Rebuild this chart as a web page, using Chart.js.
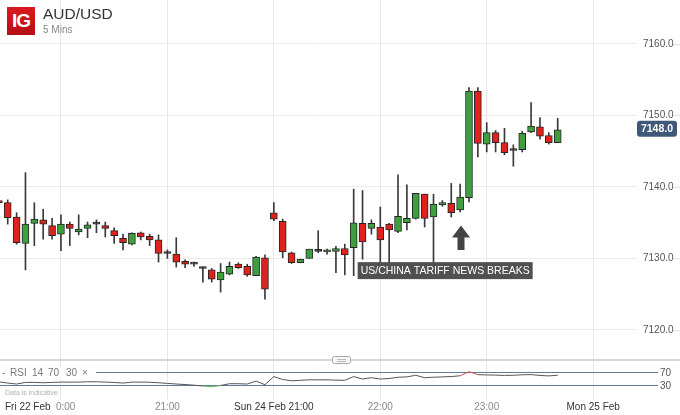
<!DOCTYPE html>
<html>
<head>
<meta charset="utf-8">
<script src="https://cdn.jsdelivr.net/npm/chart.js@4.4.1/dist/chart.umd.min.js"></script>
<style>
body{margin:0;width:680px;height:415px;background:#fff;overflow:hidden;position:relative;font-family:"Liberation Sans",Arial,sans-serif}
#main{position:absolute;left:0;top:0}
#rsi{position:absolute;left:0;top:356px}
#logo{position:absolute;left:7px;top:7px;width:28px;height:28px;background:linear-gradient(#dc1a20,#b30f15);color:#fff;font:bold 19px "Liberation Sans",Arial,sans-serif;letter-spacing:-1px;display:flex;align-items:center;justify-content:center;z-index:2}
#title{position:absolute;left:43px;top:6px;font-size:15.5px;line-height:15px;color:#333;z-index:2}
#sub{position:absolute;left:43px;top:25px;font-size:10px;line-height:10px;color:#888;z-index:2}
</style>
</head>
<body>
<canvas id="main" width="680" height="356"></canvas>
<canvas id="rsi" width="680" height="59"></canvas>
<div id="logo">IG</div>
<div id="title">AUD/USD</div>
<div id="sub">5 Mins</div>
<script>
// 5 minute candles
const opens  = [7137.9,7137.8,7135.8,7132.1,7134.9,7135.4,7134.6,7133.4,7134.8,7133.7,
                7134.2,7134.8,7134.6,7133.9,7132.8,7132.0,7133.6,7133.1,7132.6,7130.7,
                7130.6,7129.6,7129.2,7128.6,7128.4,7127.0,7127.8,7129.2,7128.9,7127.6,
                7130.1,7136.4,7135.2,7130.8,7129.4,7130.0,7131.0,7130.9,7131.0,7131.4,
                7131.5,7134.9,7134.2,7134.4,7134.8,7133.8,7135.0,7135.6,7139.0,7135.8,
                7137.5,7137.7,7136.8,7138.5,7153.4,7146.0,7147.6,7146.2,7145.1,7145.2,
                7147.7,7148.4,7147.2,7146.2];
const highs  = [7138.0,7138.2,7136.4,7142.0,7137.8,7136.9,7135.6,7136.1,7135.1,7136.1,
                7135.1,7135.4,7135.1,7134.3,7133.4,7133.6,7133.7,7133.4,7133.3,7131.2,
                7132.9,7129.8,7129.5,7128.8,7128.6,7129.3,7129.5,7129.4,7129.2,7130.3,
                7130.5,7137.8,7135.5,7130.9,7129.9,7131.3,7133.9,7131.3,7131.7,7132.0,
                7139.7,7139.5,7135.4,7137.2,7134.9,7141.7,7140.3,7139.1,7139.0,7139.0,
                7138.1,7140.5,7140.4,7153.9,7153.9,7149.0,7147.9,7148.2,7145.9,7147.8,
                7151.8,7149.7,7147.6,7149.6];
const lows   = [7137.7,7134.8,7132.0,7128.4,7131.8,7132.7,7132.7,7131.1,7131.8,7133.3,
                7132.9,7133.6,7133.0,7132.1,7131.2,7131.9,7132.6,7131.8,7129.5,7130.0,
                7128.8,7128.7,7128.9,7126.7,7126.7,7125.3,7127.7,7128.6,7127.5,7127.6,
                7124.3,7135.3,7130.1,7129.3,7129.4,7130.0,7130.8,7130.6,7128.0,7127.7,
                7127.6,7129.9,7133.4,7128.5,7128.5,7133.6,7134.0,7135.5,7134.4,7128.5,
                7137.3,7135.8,7136.5,7137.9,7144.2,7144.9,7144.9,7144.5,7142.9,7144.9,
                7147.6,7146.7,7146.0,7146.2];
const closes = [7137.8,7135.7,7132.2,7134.8,7135.5,7134.8,7133.2,7134.8,7134.2,7134.1,
                7134.7,7134.8,7134.2,7133.2,7132.2,7133.5,7133.0,7132.6,7130.7,7130.7,
                7129.5,7129.2,7129.2,7128.6,7127.1,7128.1,7128.9,7128.7,7127.7,7130.2,
                7125.7,7135.5,7130.9,7129.4,7129.9,7131.3,7131.0,7131.2,7131.4,7130.5,
                7135.0,7132.3,7134.9,7132.6,7134.0,7135.9,7135.6,7139.1,7135.6,7137.6,
                7137.8,7136.4,7138.6,7153.4,7146.1,7147.6,7146.2,7144.8,7145.1,7147.5,
                7148.5,7147.1,7146.2,7148.0];
// RSI(14) underneath
const rsiValues = [43,39,36,41,41,40,41,42,42,42,
                   43,43,42,41,39,42,42,41.5,40,38,
                   36,34.5,32.5,30,27.5,31.5,37,37,36,45,
                   34,59,50,46,47.5,49,49,49,48,47.5,
                   59,51.5,55.5,51.5,53,57,58,63,55.5,57,
                   58,59,61.5,74,65,64,63.5,62.5,63,64.5,
                   65,62.5,61,63];
const rsiLevels = [30, 70];
const priceTicks = [7120, 7130, 7140, 7150, 7160];
// hour marks (candle index) and their labels
const hourTicks = [7, 19, 31, 43, 55, 67];
const hourLabels = ['0:00', '21:00', 'Sun 24 Feb 21:00', '22:00', '23:00', 'Mon 25 Feb'];
const firstDayLabel = 'Fri 22 Feb';
const noteText = 'US/CHINA TARIFF NEWS BREAKS';
const noteIndex = 40.45, notePrice = 7128.3;
const arrowIndex = 52.1, arrowTop = 7134.6, arrowBottom = 7131.2;
const lastPrice = 7148.0;

const FONT = '"Liberation Sans", Arial, sans-serif';
Chart.defaults.font.family = FONT;
Chart.defaults.animation = false;

const upColor = '#3d9f3d';
const downColor = '#e0221c';
const bodyColors = opens.map((o, i) => closes[i] > o ? upColor : (closes[i] < o ? downColor : '#333'));

function xScale(){
    return {
        type: 'linear',
        min: 0.13,
        max: 71.94,
        offset: false,
        afterBuildTicks: s => { s.ticks = hourTicks.map(v => ({value: v})); },
        ticks: {display: false},
        grid: {color: '#e8e8e8', drawTicks: false, offset: false},
        border: {display: false}
    };
}

// fixed width right axis, no extra room for the edge labels
function fitRightAxis(s){
    s.width = 43;
    s.paddingTop = 0;
    s.paddingBottom = 0;
}

const mainOverlay = {
    id: 'mainOverlay',
    afterDatasetsDraw(chart){
        const {ctx, chartArea} = chart;
        const x = chart.scales.x, y = chart.scales.y;
        ctx.save();

        // news label
        const lx = x.getPixelForValue(noteIndex);
        const ly = y.getPixelForValue(notePrice);
        ctx.font = '10.5px ' + FONT;
        const w = ctx.measureText(noteText).width + 6;
        ctx.fillStyle = '#505050';
        ctx.fillRect(lx, ly - 8.5, w, 17);
        ctx.fillStyle = '#fff';
        ctx.textBaseline = 'middle';
        ctx.fillText(noteText, lx + 3, ly + 0.5);

        // arrow
        const ax = x.getPixelForValue(arrowIndex);
        const at = y.getPixelForValue(arrowTop);
        const ab = y.getPixelForValue(arrowBottom);
        ctx.fillStyle = '#444';
        ctx.beginPath();
        ctx.moveTo(ax, at);
        ctx.lineTo(ax + 9, at + 12);
        ctx.lineTo(ax + 3.5, at + 12);
        ctx.lineTo(ax + 3.5, ab);
        ctx.lineTo(ax - 3.5, ab);
        ctx.lineTo(ax - 3.5, at + 12);
        ctx.lineTo(ax - 9, at + 12);
        ctx.closePath();
        ctx.fill();

        // short stubs right of price labels
        ctx.strokeStyle = '#e2e2e2';
        ctx.lineWidth = 1;
        priceTicks.forEach(p => {
            const py = Math.round(y.getPixelForValue(p)) + 0.5;
            ctx.beginPath();
            ctx.moveTo(673, py);
            ctx.lineTo(680, py);
            ctx.stroke();
        });

        // last price badge
        const by = y.getPixelForValue(lastPrice) - 1;
        ctx.fillStyle = '#3f5878';
        ctx.beginPath();
        ctx.roundRect(chartArea.right, by - 8, 40, 16, 3);
        ctx.fill();
        ctx.fillStyle = '#fff';
        ctx.font = 'bold 10.5px ' + FONT;
        ctx.textAlign = 'center';
        ctx.fillText(lastPrice.toFixed(1), chartArea.right + 20, by + 0.5);
        ctx.restore();
    }
};

new Chart(document.getElementById('main'), {
    type: 'bar',
    data: {
        datasets: [{
            data: opens.map((o, i) => ({x: i, y: [o, closes[i]]})),
            backgroundColor: bodyColors,
            borderColor: '#262626',
            borderWidth: 1,
            borderSkipped: false,
            barThickness: 7,
            maxBarThickness: 7,
            minBarLength: 2,
            grouped: false
        }, {
            data: lows.map((l, i) => ({x: i, y: [l, highs[i]]})),
            backgroundColor: '#3a3a3a',
            borderWidth: 0,
            barThickness: 1,
            maxBarThickness: 1,
            grouped: false
        }]
    },
    options: {
        responsive: false,
        events: [],
        layout: {padding: 0},
        plugins: {legend: {display: false}, tooltip: {enabled: false}},
        scales: {
            x: xScale(),
            y: {
                position: 'right',
                min: 7116.36,
                max: 7166.15,
                beginAtZero: false,
                afterFit: fitRightAxis,
                afterBuildTicks: s => { s.ticks = priceTicks.map(v => ({value: v})); },
                ticks: {padding: 6, color: '#555', font: {size: 10}, callback: v => v.toFixed(1)},
                grid: {color: '#ececec', drawTicks: false},
                border: {display: false}
            }
        }
    },
    plugins: [mainOverlay]
});

const rsiOverlay = {
    id: 'rsiOverlay',
    afterDraw(chart){
        const {ctx} = chart;
        const x = chart.scales.x;
        ctx.save();

        // scroll bar
        ctx.strokeStyle = '#d6d6d6';
        ctx.lineWidth = 2;
        ctx.beginPath();
        ctx.moveTo(0, 4);
        ctx.lineTo(680, 4);
        ctx.stroke();
        ctx.fillStyle = '#f6f6f6';
        ctx.strokeStyle = '#a8a8a8';
        ctx.lineWidth = 1;
        ctx.beginPath();
        ctx.roundRect(332.5, 0.5, 18, 7, 2);
        ctx.fill();
        ctx.stroke();
        ctx.strokeStyle = '#bbb';
        ctx.beginPath();
        ctx.moveTo(337, 3.5); ctx.lineTo(346, 3.5);
        ctx.moveTo(337, 5.5); ctx.lineTo(346, 5.5);
        ctx.stroke();

        // indicator caption
        ctx.fillStyle = '#fff';
        ctx.fillRect(0, 11, 96, 12);
        ctx.fillStyle = '#777';
        ctx.font = '10px ' + FONT;
        ctx.textBaseline = 'middle';
        [['-', 2], ['RSI', 10], ['14', 32], ['70', 48], ['30', 66], ['\u00d7', 82]].forEach(([t, px]) => {
            ctx.fillText(t, px, 17.5);
        });
        ctx.fillStyle = '#b0b0b0';
        ctx.font = '7px ' + FONT;
        ctx.fillText('Data is indicative', 5, 37.5);

        // time axis labels
        ctx.font = '10px ' + FONT;
        hourTicks.forEach((v, i) => {
            const px = x.getPixelForValue(v);
            const label = hourLabels[i];
            ctx.fillStyle = /[A-Za-z]/.test(label) ? '#333' : '#8a8a8a';
            if (i === 0) {
                ctx.textAlign = 'left';
                ctx.fillStyle = '#333';
                ctx.fillText(firstDayLabel, 5, 51.5);
                ctx.fillStyle = '#8a8a8a';
                ctx.fillText(label, px - 5, 51.5);
            } else {
                ctx.textAlign = 'center';
                ctx.fillText(label, px, 51.5);
            }
        });
        ctx.restore();
    }
};

new Chart(document.getElementById('rsi'), {
    type: 'line',
    data: {
        datasets: [{
            data: rsiValues.map((v, i) => ({x: i, y: v})),
            borderColor: '#555',
            borderWidth: 1,
            pointRadius: 0,
            tension: 0,
            segment: {
                borderColor: c => {
                    const a = c.p0.parsed.y, b = c.p1.parsed.y;
                    if (a > rsiLevels[1] || b > rsiLevels[1]) return '#d9534f';
                    if (a < rsiLevels[0] || b < rsiLevels[0]) return '#5cb85c';
                    return undefined;
                }
            }
        }]
    },
    options: {
        responsive: false,
        events: [],
        layout: {padding: {bottom: 15}},
        plugins: {legend: {display: false}, tooltip: {enabled: false}},
        scales: {
            x: xScale(),
            y: {
                position: 'right',
                min: -13.1,
                max: 122.3,
                afterFit: fitRightAxis,
                afterBuildTicks: s => { s.ticks = rsiLevels.map(v => ({value: v})); },
                ticks: {padding: 2, color: '#555', font: {size: 10}},
                grid: {color: '#5d7b9c', drawTicks: true, tickLength: 21},
                border: {display: false}
            }
        }
    },
    plugins: [rsiOverlay]
});
</script>
</body>
</html>
